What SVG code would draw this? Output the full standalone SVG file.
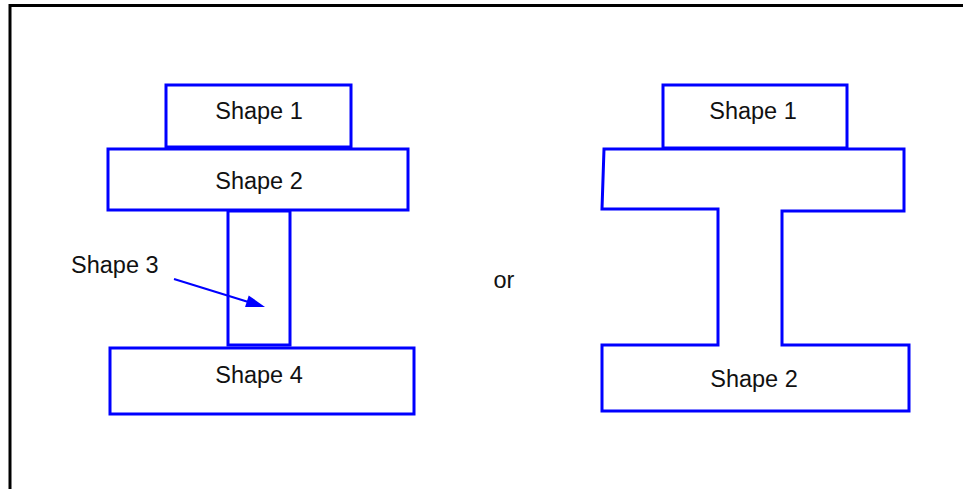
<svg xmlns="http://www.w3.org/2000/svg" width="963" height="489" viewBox="0 0 963 489">
<style>
.s{fill:none;stroke:#0000ff;stroke-width:3}
.t{font-family:"Liberation Sans",Arial,sans-serif;font-size:23.5px;fill:#111}
.m{text-anchor:middle}
</style>
<rect width="963" height="489" fill="#fff"/>
<path d="M10,489 V5.5 H963" fill="none" stroke="#000" stroke-width="3"/>
<g id="left-shape1"><rect class="s" x="166" y="85" width="185" height="62"/><text class="t m" x="259" y="119">Shape 1</text></g>
<g id="left-shape2"><rect class="s" x="108" y="149" width="300" height="61"/><text class="t m" x="259" y="189">Shape 2</text></g>
<g id="left-shape3"><rect class="s" x="228" y="211" width="62" height="134"/></g>
<g id="left-shape4"><rect class="s" x="110" y="348" width="304" height="66"/><text class="t m" x="259" y="383">Shape 4</text></g>
<g id="label-shape3"><text class="t" x="71" y="273">Shape 3</text></g>
<g id="connectors">
<line x1="174" y1="279" x2="250" y2="302.5" stroke="#0000ff" stroke-width="2.2"/>
<polygon points="265,307 245.1,306.9 248.7,295.4" fill="#0000ff"/>
</g>
<g id="or"><text class="t m" x="504" y="288">or</text></g>
<g id="right-shape1"><rect class="s" x="663" y="85" width="184" height="63"/><text class="t m" x="753" y="119">Shape 1</text></g>
<g id="right-shape2"><polygon class="s" points="604,149 904,149 904,211 782,211 782,345 909,345 909,411 602,411 602,345 718,345 718,209 602,209"/><text class="t m" x="754" y="387">Shape 2</text></g>
</svg>
